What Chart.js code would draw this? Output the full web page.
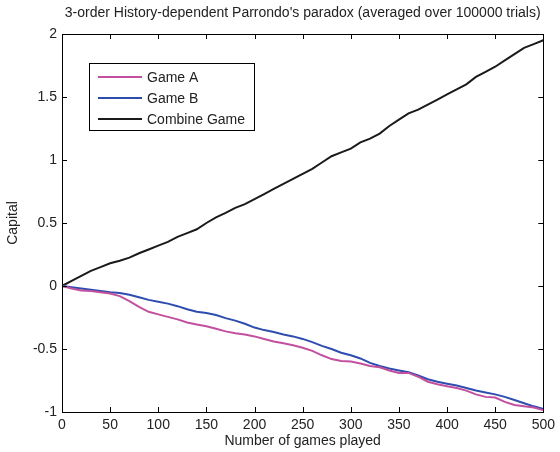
<!DOCTYPE html>
<html>
<head>
<meta charset="utf-8">
<script src="https://cdn.jsdelivr.net/npm/chart.js@4"></script>
<style>
  html, body { margin: 0; padding: 0; background: #fff; }
  #wrap { position: relative; width: 560px; height: 452px; }
</style>
</head>
<body>
<div id="wrap"><canvas id="c" width="560" height="452"></canvas></div>
<script>
const chartTitle = "3-order History-dependent Parrondo's paradox (averaged over 100000 trials)";
const xTitle = "Number of games played";
const yTitle = "Capital";
const seriesNames = ["Game A", "Game B", "Combine Game"];

const games = [0,10,20,30,40,50,60,70,80,90,100,110,120,130,140,150,160,170,180,190,200,
  210,220,230,240,250,260,270,280,290,300,310,320,330,340,350,360,370,380,390,400,
  410,420,430,440,450,460,470,480,490,500];

const gameA = [0,-0.02,-0.035,-0.04,-0.05,-0.06,-0.08,-0.12,-0.165,-0.205,-0.225,
  -0.245,-0.265,-0.29,-0.305,-0.32,-0.34,-0.36,-0.375,-0.385,-0.40,
  -0.42,-0.44,-0.455,-0.47,-0.49,-0.515,-0.55,-0.58,-0.595,-0.60,
  -0.615,-0.635,-0.645,-0.67,-0.69,-0.69,-0.72,-0.76,-0.78,-0.795,
  -0.81,-0.83,-0.86,-0.88,-0.885,-0.92,-0.945,-0.955,-0.965,-0.985];

const gameB = [0,-0.01,-0.02,-0.03,-0.04,-0.05,-0.055,-0.07,-0.09,-0.11,-0.125,
  -0.14,-0.16,-0.185,-0.205,-0.215,-0.23,-0.255,-0.275,-0.30,-0.33,
  -0.35,-0.365,-0.385,-0.40,-0.42,-0.445,-0.475,-0.50,-0.53,-0.55,
  -0.575,-0.61,-0.635,-0.655,-0.67,-0.685,-0.71,-0.74,-0.76,-0.775,
  -0.79,-0.81,-0.83,-0.845,-0.86,-0.88,-0.905,-0.93,-0.955,-0.975];

const combine = [0,0.04,0.08,0.12,0.15,0.18,0.20,0.225,0.26,0.29,0.32,
  0.35,0.39,0.42,0.45,0.50,0.545,0.58,0.62,0.65,0.69,
  0.73,0.77,0.81,0.85,0.89,0.93,0.98,1.03,1.06,1.09,
  1.14,1.17,1.21,1.27,1.32,1.37,1.40,1.44,1.48,1.52,
  1.56,1.60,1.66,1.70,1.74,1.79,1.84,1.89,1.92,1.95];

const xTicks = [0,50,100,150,200,250,300,350,400,450,500];
const yTicks = [-1,-0.5,0,0.5,1,1.5,2];
const yTickLabels = ["-1","-0.5","0","0.5","1","1.5","2"];

const FONT = "'Liberation Sans', Arial, sans-serif";
const FS = 14;
const TXT = '#222';

function pts(ys) { return games.map((g, i) => ({ x: g, y: ys[i] })); }

const boxPlugin = {
  id: 'matlabBox',
  afterDraw(chart) {
    const ctx = chart.ctx;
    const a = chart.chartArea;
    const xs = chart.scales.x, ys = chart.scales.y;
    ctx.save();
    // title centered over the axes
    ctx.font = FS + 'px ' + FONT;
    ctx.fillStyle = TXT;
    ctx.textAlign = 'center';
    ctx.textBaseline = 'middle';
    ctx.fillText(chartTitle, (a.left + a.right) / 2, 13);

    ctx.strokeStyle = '#000';
    ctx.lineWidth = 1;
    ctx.strokeRect(Math.round(a.left) + 0.5, Math.round(a.top) + 0.5,
      Math.round(a.right - a.left), Math.round(a.bottom - a.top));
    const L = 5;
    ctx.beginPath();
    xTicks.forEach(v => {
      const px = Math.round(xs.getPixelForValue(v)) + 0.5;
      ctx.moveTo(px, a.bottom); ctx.lineTo(px, a.bottom - L);
      ctx.moveTo(px, a.top); ctx.lineTo(px, a.top + L);
    });
    yTicks.forEach(v => {
      const py = Math.round(ys.getPixelForValue(v)) + 0.5;
      ctx.moveTo(a.left, py); ctx.lineTo(a.left + L, py);
      ctx.moveTo(a.right, py); ctx.lineTo(a.right - L, py);
    });
    ctx.stroke();

    // legend box
    const bx = 89.5, by = 63.5, bw = 165, bh = 67;
    ctx.fillStyle = '#fff';
    ctx.fillRect(bx, by, bw, bh);
    ctx.strokeStyle = '#000';
    ctx.strokeRect(bx, by, bw, bh);
    ctx.font = FS + 'px ' + FONT;
    ctx.textBaseline = 'middle';
    ctx.textAlign = 'left';
    chart.data.datasets.forEach((ds, i) => {
      const y = 77 + i * 21;
      ctx.strokeStyle = ds.borderColor;
      ctx.lineWidth = 2;
      ctx.beginPath();
      ctx.moveTo(98, y); ctx.lineTo(142, y);
      ctx.stroke();
      ctx.fillStyle = TXT;
      ctx.fillText(ds.label, 147, y + 1);
    });
    ctx.restore();
  }
};

new Chart(document.getElementById('c'), {
  type: 'line',
  data: {
    datasets: [
      { label: seriesNames[0], data: pts(gameA), borderColor: '#C2509F', borderWidth: 2, pointRadius: 0, tension: 0 },
      { label: seriesNames[1], data: pts(gameB), borderColor: '#2F4DAE', borderWidth: 2, pointRadius: 0, tension: 0 },
      { label: seriesNames[2], data: pts(combine), borderColor: '#1a1a1a', borderWidth: 2, pointRadius: 0, tension: 0 }
    ]
  },
  options: {
    responsive: false,
    animation: false,
    layout: { padding: { left: 0, right: 14, top: 34, bottom: 0 } },
    plugins: {
      legend: { display: false },
      tooltip: { enabled: false },
      title: { display: false }
    },
    scales: {
      x: {
        type: 'linear',
        min: 0, max: 500,
        afterBuildTicks(s) { s.ticks = xTicks.map(v => ({ value: v })); },
        afterFit(s) { s.height = 40; },
        grid: { display: false, drawTicks: false },
        border: { display: false },
        ticks: { color: TXT, font: { family: FONT, size: FS }, padding: 5, maxRotation: 0, autoSkip: false },
        title: { display: true, text: xTitle, color: TXT, font: { family: FONT, size: FS }, padding: { top: 0, bottom: 2 } }
      },
      y: {
        type: 'linear',
        min: -1, max: 2,
        afterBuildTicks(s) { s.ticks = yTicks.map(v => ({ value: v })); },
        afterFit(s) { s.width = 62; },
        grid: { display: false, drawTicks: false },
        border: { display: false },
        ticks: {
          color: TXT, font: { family: FONT, size: FS }, padding: 5, autoSkip: false,
          callback: (v, i) => yTickLabels[yTicks.indexOf(v)]
        },
        title: { display: true, text: yTitle, color: TXT, font: { family: FONT, size: FS }, padding: { top: 5, bottom: 0 } }
      }
    }
  },
  plugins: [boxPlugin]
});
</script>
</body>
</html>
